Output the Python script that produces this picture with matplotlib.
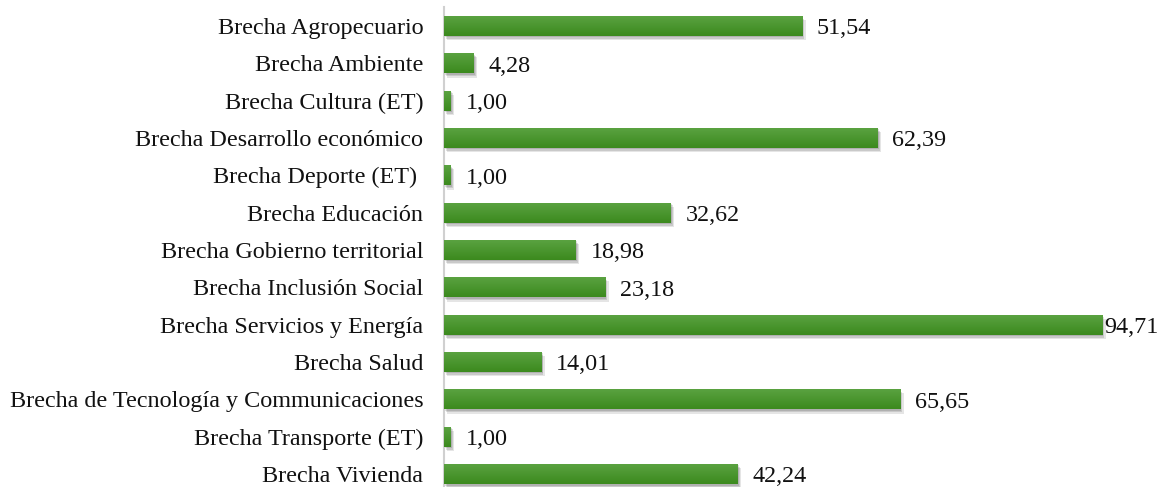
import matplotlib
matplotlib.use("Agg")
import matplotlib.pyplot as plt
import matplotlib.patheffects as pe
import numpy as np
from matplotlib.colors import LinearSegmentedColormap

categories = [
    "Brecha Agropecuario",
    "Brecha Ambiente",
    "Brecha Cultura (ET)",
    "Brecha Desarrollo económico",
    "Brecha Deporte (ET) ",
    "Brecha Educación",
    "Brecha Gobierno territorial",
    "Brecha Inclusión Social",
    "Brecha Servicios y Energía",
    "Brecha Salud",
    "Brecha de Tecnología y Communicaciones",
    "Brecha Transporte (ET)",
    "Brecha Vivienda",
]
values = [51.54, 4.28, 1.00, 62.39, 1.00, 32.62, 18.98, 23.18, 94.71, 14.01, 65.65, 1.00, 42.24]

plt.rcParams["font.family"] = ["Liberation Serif", "DejaVu Serif"]

fig = plt.figure(figsize=(11.6, 4.87), dpi=100)
ax = fig.add_axes((444 / 1160, 1 - 492.7 / 487, 1 - 444 / 1160, (492.7 - 7.3) / 487))

y = np.arange(len(categories))
bar_h = 0.54
bars = ax.barh(y, values, height=bar_h, color="#4a9630", zorder=2)

# soft drop shadow under each bar
for b in bars:
    b.set_path_effects([pe.SimplePatchShadow(offset=(2.5, -3), shadow_rgbFace="#000000", alpha=0.10),
                        pe.SimplePatchShadow(offset=(1.5, -2), shadow_rgbFace="#000000", alpha=0.12),
                        pe.SimplePatchShadow(offset=(0.8, -1), shadow_rgbFace="#000000", alpha=0.12),
                        pe.Normal()])

# vertical gradient: lighter on top, darker below
grad = LinearSegmentedColormap.from_list("g", ["#5ba342", "#3c8a1e"])
for b in bars:
    x0, y0 = b.get_x(), b.get_y()
    im = ax.imshow(np.linspace(0, 1, 50).reshape(-1, 1), cmap=grad, aspect="auto",
                   extent=(x0, x0 + b.get_width(), y0 + b.get_height(), y0), zorder=3,
                   interpolation="bilinear")
    im.set_clip_path(b)

ax.set_xlim(0, 103)
ax.set_ylim(len(categories) - 0.5, -0.5)
ax.set_yticks(y)
ax.set_yticklabels(categories, fontsize=17.4, color="#111111")
ax.tick_params(axis="y", length=0, pad=15)
ax.set_xticks([])

for s in ["top", "right", "bottom"]:
    ax.spines[s].set_visible(False)
ax.spines["left"].set_color("#d0d0d0")
ax.spines["left"].set_linewidth(1.5)

for yi, v in zip(y, values):
    off = 1.5 if v > 90 else 10.5
    ax.annotate(f"{v:.2f}".replace(".", ","), (v, yi), xytext=(off, -2), textcoords="offset points",
                va="center", ha="left", fontsize=17.4, color="#111111")

fig.savefig("out.png", dpi=100)
